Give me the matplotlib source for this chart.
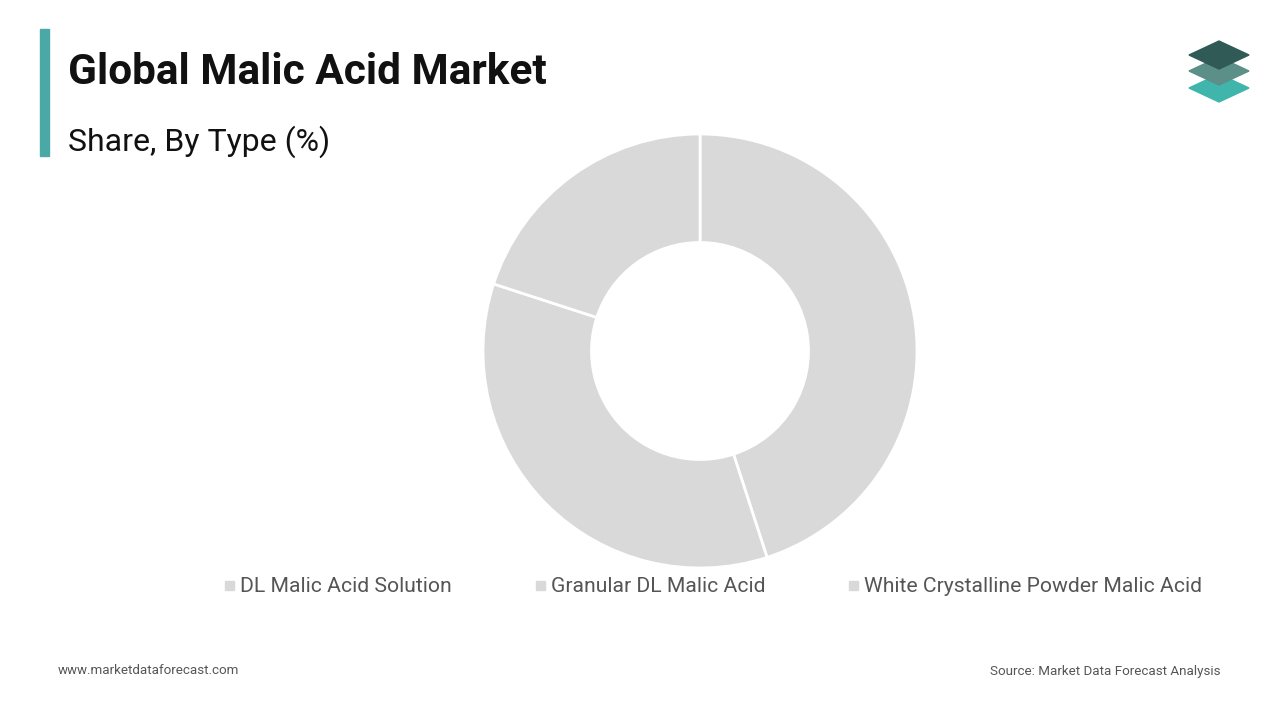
import matplotlib.pyplot as plt
from matplotlib.patches import Polygon, Rectangle

plt.rcParams['font.family'] = ['Roboto', 'DejaVu Sans']

types = ['DL Malic Acid Solution', 'Granular DL Malic Acid', 'White Crystalline Powder Malic Acid']
shares = [45, 35, 20]
slice_color = '#d9d9d9'

fig = plt.figure(figsize=(12.8, 7.2), dpi=100)
fig.patch.set_facecolor('white')

ax = fig.add_axes([0, 0, 1, 1])
ax.set_xlim(0, 1280)
ax.set_ylim(720, 0)
ax.axis('off')

# donut: center (700, 351), radius 217 px
pie_ax = fig.add_axes([(700 - 217) / 1280, 1 - (351 + 217) / 720, 434 / 1280, 434 / 720])
pie_ax.pie(shares, startangle=90, counterclock=False, colors=[slice_color] * 3, radius=1,
           wedgeprops=dict(width=0.5, edgecolor='white', linewidth=2))
pie_ax.set_xlim(-1, 1)
pie_ax.set_ylim(-1, 1)
pie_ax.axis('off')

# title block
ax.add_patch(Rectangle((40, 29), 9, 127, color='#4aa9a6'))
ax.text(68, 72, 'Global Malic Acid Market', fontsize=30.5, fontweight='bold', va='center', color='#111111')
ax.text(68, 142, 'Share, By Type (%)', fontsize=23, va='center', color='#111111')

# legend
leg_x = [225, 536, 849]
for x, name in zip(leg_x, types):
    ax.add_patch(Rectangle((x, 581), 9, 9, color=slice_color))
    ax.text(x + 15, 586, name, fontsize=15.2, va='center', color='#555555')

# footer
ax.text(58, 671, 'www.marketdataforecast.com', fontsize=9.6, va='center', color='#555555')
ax.text(1220, 671, 'Source: Market Data Forecast Analysis', fontsize=9.6, va='center', ha='right', color='#555555')

# logo
for dy, col in [(48, '#3fb5ac'), (31, '#5b8f88'), (15, '#2f5a55')]:
    cy = 40 + dy
    ax.add_patch(Polygon([(1189, cy), (1219, cy - 14), (1249, cy), (1219, cy + 14)],
                         closed=True, color=col))

fig.savefig('out.png', dpi=100)
